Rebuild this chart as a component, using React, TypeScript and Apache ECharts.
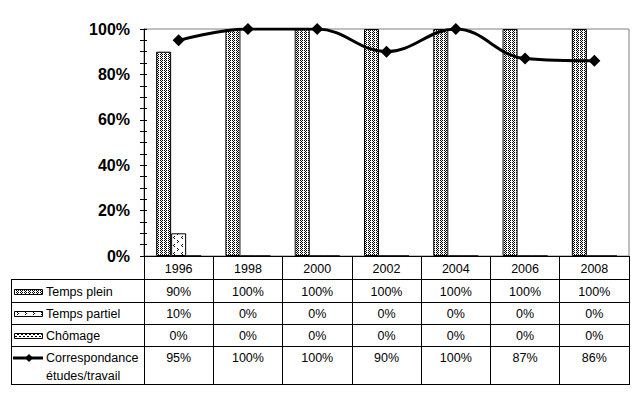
import React, { useEffect, useRef } from 'react';
import * as echarts from 'echarts';

const years = ['1996', '1998', '2000', '2002', '2004', '2006', '2008'];
const tempsPlein = [90, 100, 100, 100, 100, 100, 100];
const tempsPartiel = [10, 0, 0, 0, 0, 0, 0];
const chomage = [0, 0, 0, 0, 0, 0, 0];
const correspondance = [95, 100, 100, 90, 100, 87, 86];
const seriesNames = ['Temps plein', 'Temps partiel', 'Chômage', 'Correspondance', 'études/travail'];
const yMin = 0;
const yMax = 100;
const yInterval = 20;

const FONT = 'Arial, "Liberation Sans", sans-serif';

function makePattern(w: number, h: number, pts: number[][]) {
  const c = document.createElement('canvas');
  c.width = w;
  c.height = h;
  const ctx = c.getContext('2d')!;
  ctx.fillStyle = '#ffffff';
  ctx.fillRect(0, 0, w, h);
  ctx.fillStyle = '#000000';
  pts.forEach(([x, y]) => ctx.fillRect(x, y, 1, 1));
  return { image: c, repeat: 'repeat' as const };
}

export default function App() {
  const ref = useRef<HTMLDivElement>(null);
  useEffect(() => {
    if (!ref.current) return;
    const chart = echarts.init(ref.current, undefined, { renderer: 'svg' });
    const pPlein = makePattern(4, 2, [[0, 0], [2, 0], [1, 1]]);
    const pPartiel = makePattern(8, 8, [[1, 0], [2, 1], [1, 2], [6, 4], [5, 5], [6, 6]]);
    const pChomage = makePattern(4, 4, [[0, 0], [2, 2], [3, 0], [1, 2]]);

    const gridLeft = 144;
    const gridRight = 629;
    const gridTop = 29;
    const axisY = 256;
    const tableLeft = 11;
    const rowLines = [279, 302, 324, 346, 384];
    const rowCenters = [292, 314, 336, 358];
    const tableFontSize = 12.5;

    const barCommon = {
      type: 'bar' as const,
      barWidth: 15,
      barGap: '0%',
      itemStyle: { borderColor: '#000', borderWidth: 1 },
    };

    chart.setOption({
      animation: false,
      backgroundColor: '#fff',
      grid: {
        left: gridLeft,
        right: 639 - gridRight,
        top: gridTop,
        bottom: 399 - axisY,
        show: true,
        borderColor: '#808080',
        borderWidth: 1,
        backgroundColor: 'transparent',
      },
      xAxis: {
        type: 'category',
        data: years,
        boundaryGap: true,
        axisLine: { show: true, lineStyle: { color: '#000', width: 1 } },
        axisTick: { show: true, length: 384 - axisY, lineStyle: { color: '#000', width: 1 } },
        axisLabel: { color: '#000', fontSize: tableFontSize, fontFamily: FONT, margin: 6 },
        splitLine: { show: false },
      },
      yAxis: [
        {
          type: 'value',
          min: yMin,
          max: yMax,
          interval: yInterval,
          position: 'left',
          axisLine: { show: true, lineStyle: { color: '#000', width: 1 } },
          axisTick: { show: true, length: 4, lineStyle: { color: '#000' } },
          minorTick: { show: true, splitNumber: 4, length: 4, lineStyle: { color: '#000' } },
          axisLabel: {
            color: '#000',
            fontSize: 16,
            fontWeight: 'bold',
            fontFamily: FONT,
            margin: 14,
            formatter: '{value}%',
          },
          splitLine: { show: false },
        },
        {
          type: 'value',
          min: yMin,
          max: yMax,
          interval: yInterval,
          position: 'left',
          offset: 0,
          axisLine: { show: false },
          axisTick: { show: true, inside: true, length: 3, lineStyle: { color: '#000' } },
          minorTick: { show: true, splitNumber: 4, length: 3, lineStyle: { color: '#000' } },
          axisLabel: { show: false },
          splitLine: { show: false },
        },
      ],
      series: [
        { ...barCommon, name: seriesNames[0], data: tempsPlein, itemStyle: { ...barCommon.itemStyle, color: pPlein } },
        { ...barCommon, name: seriesNames[1], data: tempsPartiel, itemStyle: { ...barCommon.itemStyle, color: pPartiel } },
        { ...barCommon, name: seriesNames[2], data: chomage, itemStyle: { ...barCommon.itemStyle, color: pChomage } },
        {
          type: 'line',
          name: seriesNames[3],
          data: correspondance,
          smooth: 0.4,
          symbol: 'diamond',
          symbolSize: 12,
          z: 5,
          itemStyle: { color: '#000' },
          lineStyle: { color: '#000', width: 3 },
        },
      ],
    });

    const txt = (text: string, x: number, y: number, align: string) => ({
      type: 'text',
      x,
      y,
      silent: true,
      style: {
        text,
        fill: '#000',
        fontSize: tableFontSize,
        fontFamily: FONT,
        textAlign: align,
        textVerticalAlign: 'middle',
        verticalAlign: 'middle',
      },
    });

    const graphics: any[] = [];
    rowLines.forEach((y) => {
      graphics.push({
        type: 'line',
        silent: true,
        shape: { x1: tableLeft, y1: y + 0.5, x2: gridRight + 1, y2: y + 0.5 },
        style: { stroke: '#000', lineWidth: 1 },
      });
    });
    graphics.push({
      type: 'line',
      silent: true,
      shape: { x1: tableLeft + 0.5, y1: rowLines[0], x2: tableLeft + 0.5, y2: rowLines[rowLines.length - 1] + 1 },
      style: { stroke: '#000', lineWidth: 1 },
    });

    const tableRows = [tempsPlein, tempsPartiel, chomage, correspondance];
    const patterns = [pPlein, pPartiel, pChomage];
    tableRows.forEach((row, r) => {
      row.forEach((v, i) => {
        const x = chart.convertToPixel({ xAxisIndex: 0 }, years[i]) as number;
        graphics.push(txt(v + '%', x, rowCenters[r], 'center'));
      });
    });
    for (let r = 0; r < 3; r++) {
      graphics.push({
        type: 'rect',
        silent: true,
        shape: { x: 14.5, y: rowCenters[r] - 2.5, width: 28, height: 5 },
        style: { fill: patterns[r], stroke: '#000', lineWidth: 1 },
      });
      graphics.push(txt(seriesNames[r], 46, rowCenters[r], 'left'));
    }
    graphics.push({
      type: 'line',
      silent: true,
      shape: { x1: 13, y1: rowCenters[3], x2: 43, y2: rowCenters[3] },
      style: { stroke: '#000', lineWidth: 3 },
    });
    graphics.push({
      type: 'polygon',
      silent: true,
      shape: {
        points: [
          [29, rowCenters[3] - 4],
          [33, rowCenters[3]],
          [29, rowCenters[3] + 4],
          [25, rowCenters[3]],
        ],
      },
      style: { fill: '#000' },
    });
    graphics.push(txt(seriesNames[3], 46, rowCenters[3], 'left'));
    graphics.push(txt(seriesNames[4], 46, rowCenters[3] + 18, 'left'));

    chart.setOption({ graphic: graphics });

    return () => chart.dispose();
  }, []);

  return (
    <div
      ref={ref}
      style={{ position: 'fixed', left: 0, top: 0, width: 639, height: 399, background: '#fff' }}
    />
  );
}
